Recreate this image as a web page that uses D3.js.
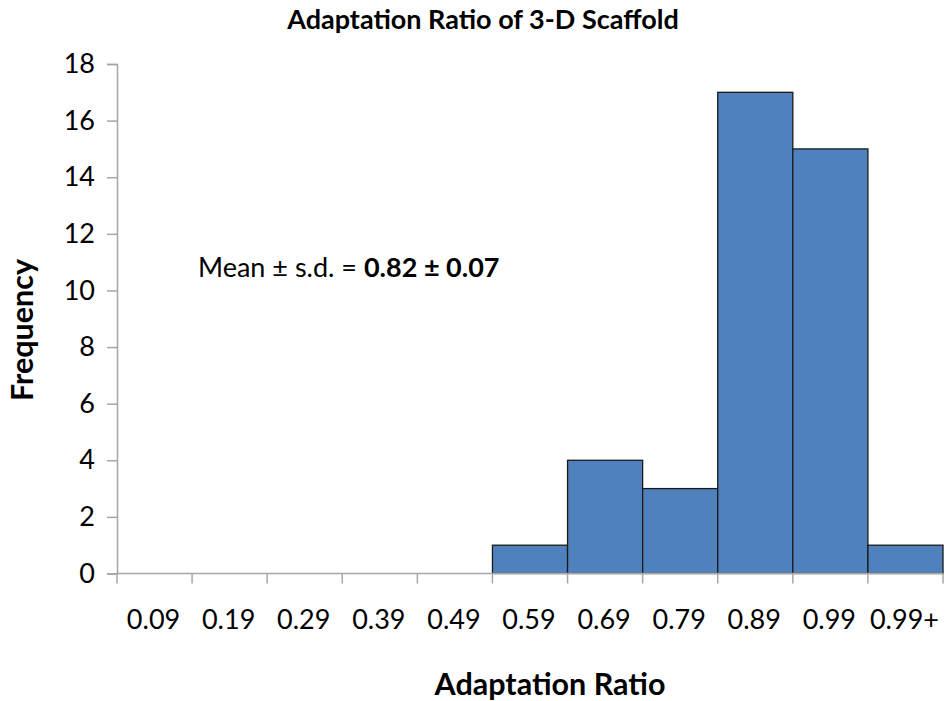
<!DOCTYPE html>
<html>
<head>
<meta charset="utf-8">
<script src="https://cdn.jsdelivr.net/npm/d3@7"></script>
<style>
  body { margin: 0; background: #fff; }
  svg { display: block; }
  text { font-family: Lato, "Open Sans", sans-serif; fill: #000; }
</style>
</head>
<body>
<script>
const categories = ["0.09", "0.19", "0.29", "0.39", "0.49", "0.59", "0.69", "0.79", "0.89", "0.99", "0.99+"];
const frequency = [0, 0, 0, 0, 0, 1, 4, 3, 17, 15, 1];
const yTicks = [0, 2, 4, 6, 8, 10, 12, 14, 16, 18];
const title = "Adaptation Ratio of 3-D Scaffold";
const xTitle = "Adaptation Ratio";
const yTitle = "Frequency";

const W = 946, H = 701;
const m = { left: 117, right: 3, top: 64, bottom: 127.5 };

const svg = d3.select("body").append("svg").attr("width", W).attr("height", H);

const x = d3.scaleBand().domain(categories).range([m.left, W - m.right]).padding(0);
const y = d3.scaleLinear().domain([0, 18]).range([H - m.bottom, m.top]);

// bars
svg.append("g").selectAll("rect")
  .data(categories.map((c, i) => ({ c, v: frequency[i] })).filter(d => d.v > 0))
  .join("rect")
  .attr("x", d => x(d.c))
  .attr("y", d => y(d.v))
  .attr("width", x.bandwidth())
  .attr("height", d => y(0) - y(d.v))
  .attr("fill", "#4f81bd")
  .attr("stroke", "#1a1a1a")
  .attr("stroke-width", 1.3);

// y axis
const ya = svg.append("g").attr("transform", `translate(${m.left},0)`)
  .call(d3.axisLeft(y).tickValues(yTicks).tickSize(10).tickPadding(12));
ya.select(".domain").attr("stroke", "#a6a6a6").attr("stroke-width", 1.5);
ya.selectAll(".tick line").attr("stroke", "#a6a6a6").attr("stroke-width", 1.5);
ya.selectAll(".tick text").style("font-size", "27px").style("font-family", "Lato, sans-serif").attr("fill", "#000");

// x axis with ticks at band boundaries
const xa = svg.append("g").attr("transform", `translate(0,${y(0)})`);
xa.append("line").attr("x1", m.left).attr("x2", W - m.right).attr("y1", 0).attr("y2", 0)
  .attr("stroke", "#a6a6a6").attr("stroke-width", 1.5);
const bounds = categories.map(c => x(c)).concat([x(categories[categories.length - 1]) + x.bandwidth()]);
xa.selectAll("line.tk").data(bounds).join("line").attr("class", "tk")
  .attr("x1", d => d).attr("x2", d => d).attr("y1", 0).attr("y2", 10)
  .attr("stroke", "#a6a6a6").attr("stroke-width", 1.5);
xa.selectAll("text.lab").data(categories).join("text").attr("class", "lab")
  .attr("x", d => x(d) + x.bandwidth() / 2 - 1)
  .attr("y", 55)
  .attr("text-anchor", "middle")
  .style("font-size", "27px")
  .text(d => d);

// title
svg.append("text").attr("x", 483).attr("y", 29).attr("text-anchor", "middle")
  .style("font-size", "27px").style("font-weight", "bold").text(title);

// x title
svg.append("text").attr("x", 550).attr("y", 695).attr("text-anchor", "middle")
  .style("font-size", "30.5px").style("font-weight", "bold").text(xTitle);

// y title
svg.append("text").attr("transform", "translate(33,330) rotate(-90)").attr("text-anchor", "middle")
  .style("font-size", "30.5px").style("font-weight", "bold").text(yTitle);

// annotation
const ann = svg.append("text").attr("x", 198).attr("y", 277).style("font-size", "27px");
ann.append("tspan").text("Mean \u00b1 s.d. = ");
ann.append("tspan").style("font-weight", "bold").text("0.82 \u00b1 0.07");
</script>
</body>
</html>
